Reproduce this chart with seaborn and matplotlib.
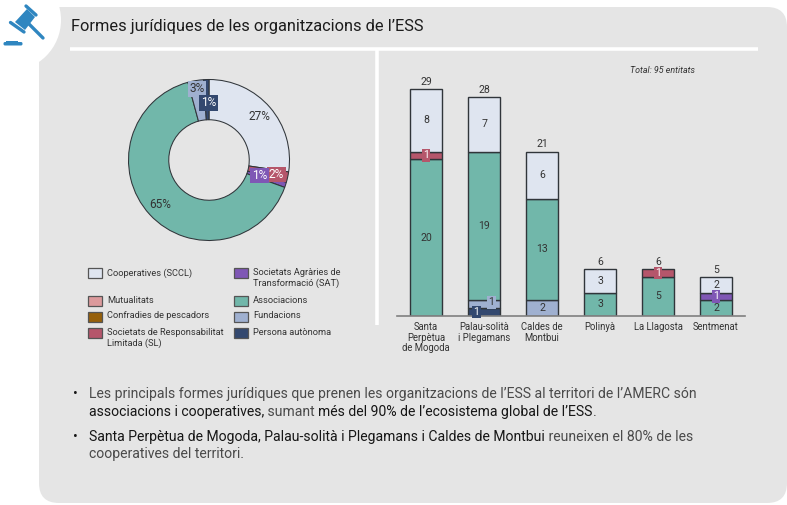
import numpy as np
import pandas as pd
import matplotlib
matplotlib.use('Agg')
import matplotlib.pyplot as plt
from matplotlib.patches import Circle, FancyBboxPatch, Polygon, Rectangle
import seaborn as sns

# -----------------------------
# Data
# -----------------------------
towns = ['Santa\nPerpètua\nde Mogoda', 'Palau-solità\ni Plegamans', 'Caldes de\nMontbui',
         'Polinyà', 'La Llagosta', 'Sentmenat']
persona = [0, 1, 0, 0, 0, 0]
fundacions = [0, 1, 2, 0, 0, 0]
associacions = [20, 19, 13, 3, 5, 2]
sat = [0, 0, 0, 0, 0, 1]
sl = [1, 0, 0, 0, 1, 0]
cooperatives = [8, 7, 6, 3, 0, 2]
totals = [29, 28, 21, 6, 6, 5]

donut_values = [26, 2, 1, 62, 3, 1]
donut_labels = ['27%', '2%', '1%', '65%', '3%', '1%']

COOP = '#dfe5f0'
ASSOC = '#71b7aa'
SL = '#b5566b'
SAT = '#7f57b5'
FUND = '#9fb0d0'
PERS = '#33486f'
MUT = '#dc9a9c'
CONF = '#96600b'
EDGE = '#30353a'
BG = '#e5e5e5'
TXT = '#333333'
BLUE = '#2f86c0'

legend_left = [('Cooperatives (SCCL)', COOP, 273), ('Mutualitats', MUT, 301),
               ('Confradies de pescadors', CONF, 316.5),
               ('Societats de Responsabilitat\nLimitada (SL)', SL, 333)]
legend_right = [('Societats Agràries de\nTransformació (SAT)', SAT, 273), ('Associacions', ASSOC, 301),
                ('Fundacions', FUND, 316.5), ('Persona autònoma', PERS, 333)]

sns.set_theme(style='white')
plt.rcParams['font.family'] = ['Roboto', 'DejaVu Sans']
W, H = 787, 505
fig = plt.figure(figsize=(W / 100, H / 100), dpi=100, facecolor='white')


def px_axes(x0, y0, x1, y1, **kw):
    # axes from pixel box, y counted from the top
    return fig.add_axes([x0 / W, 1 - y1 / H, (x1 - x0) / W, (y1 - y0) / H], **kw)


# -----------------------------
# Panel, header and icon
# -----------------------------
bg = px_axes(0, 0, W, H)
bg.set_xlim(0, W)
bg.set_ylim(H, 0)
bg.axis('off')
bg.add_patch(FancyBboxPatch((59, 27), 708, 456, boxstyle='round,pad=20,rounding_size=20',
                            fc=BG, ec='none'))
bg.add_patch(Circle((10, 20), 51, fc='white', ec='none'))
bg.plot([70, 758], [48.5, 48.5], color='white', lw=2.6, solid_capstyle='butt')
bg.plot([376.5, 376.5], [49, 325], color='white', lw=2.6, solid_capstyle='butt')
bg.text(71, 27, 'Formes jurídiques de les organitzacions de l’ESS', fontsize=11.75,
        color='#1c1c1c', va='center')

# gavel
bg.add_patch(Polygon([(27, 9), (35, 17), (25, 30), (15, 22)], fc=BLUE, ec='none'))
bg.plot([26, 36], [6, 15], color=BLUE, lw=2.4, solid_capstyle='round')
bg.plot([10.5, 24], [22.5, 32], color=BLUE, lw=2.4, solid_capstyle='round')
bg.plot([28, 43], [23, 38], color=BLUE, lw=2.4, solid_capstyle='round')
bg.add_patch(FancyBboxPatch((4, 42.5), 18, 2.5, boxstyle='round,pad=0.5,rounding_size=1.5', fc=BLUE, ec='none'))
bg.add_patch(Rectangle((6, 41), 12, 2, fc=BLUE, ec='none'))

# -----------------------------
# Donut
# -----------------------------
R = 80.5
cx, cy = 209, 160
ax_pie = px_axes(cx - 85, cy - 85, cx + 85, cy + 85)
ax_pie.patch.set_alpha(0)
ax_pie.pie(donut_values, colors=[COOP, SL, SAT, ASSOC, FUND, PERS], startangle=90, counterclock=False,
           radius=1, wedgeprops=dict(width=0.5, edgecolor=EDGE, linewidth=0.75))
ax_pie.set_xlim(-85 / R, 85 / R)
ax_pie.set_ylim(-85 / R, 85 / R)

pie_spots = [(259, 116, None, TXT), (276.5, 174.5, SL, 'white'), (259.5, 175.5, SAT, 'white'),
             (160, 204, None, TXT), (197, 89, FUND, TXT), (208.5, 103, PERS, 'white')]
for lab, (x, y, box, col) in zip(donut_labels, pie_spots):
    bbox = dict(fc=box, ec='none', pad=1.0) if box else None
    ax_pie.text((x - cx) / R, (cy - y) / R, lab, ha='center', va='center', fontsize=8.6,
                color=col, bbox=bbox)

# -----------------------------
# Legend
# -----------------------------
for items, x in ((legend_left, 88), (legend_right, 234)):
    for name, col, y in items:
        bg.add_patch(Rectangle((x, y - 5), 14, 10, fc=col, ec='#555555', lw=0.9))
        bg.text(x + 19, y - 5, name, fontsize=6.65, color=TXT, va='top', linespacing=1.25)

# -----------------------------
# Stacked bars
# -----------------------------
ax = px_axes(397, 70, 745, 316)
ax.patch.set_alpha(0)
series = [(persona, PERS), (fundacions, FUND), (associacions, ASSOC),
          (sat, SAT), (sl, SL), (cooperatives, COOP)]
pos = np.arange(len(towns))
bottom = np.zeros(len(towns))
for vals, col in series:
    vals = np.array(vals, dtype=float)
    keep = vals > 0
    df = pd.DataFrame({'town': np.array(towns)[keep], 'value': vals[keep]})
    sns.barplot(data=df, x='town', y='value', order=towns, color=col, saturation=1, width=0.55,
                bottom=bottom[keep], edgecolor=EDGE, linewidth=1.0, errorbar=None, ax=ax)
    for i in pos[keep]:
        y_mid = bottom[i] + vals[i] / 2
        x_txt = i
        if col == FUND and vals[i] == 1:
            x_txt = i + 0.13
        if col == PERS:
            x_txt = i - 0.13
        if col in (SL, SAT, PERS):
            ax.text(x_txt, y_mid, f'{int(vals[i])}', ha='center', va='center', fontsize=7.6, color='white',
                    bbox=dict(fc=col, ec='none', pad=1.0), zorder=5)
        elif col == FUND and vals[i] == 1:
            ax.text(x_txt, y_mid + 0.25, f'{int(vals[i])}', ha='center', va='center', fontsize=7.6, color=TXT,
                    bbox=dict(fc=col, ec='none', pad=1.0), zorder=5)
        else:
            ax.text(x_txt, y_mid, f'{int(vals[i])}', ha='center', va='center', fontsize=7.6, color=TXT, zorder=5)
    bottom = bottom + vals

for i, t in enumerate(totals):
    ax.annotate(str(t), (i, t), xytext=(0, 1.5), textcoords='offset points', ha='center', va='bottom',
                fontsize=7.6, color=TXT)

ax.set_xlim(-0.5, 5.5)
ax.set_ylim(0, 246 / 7.83)
ax.set_xlabel('')
ax.set_ylabel('')
ax.set_yticks([])
ax.tick_params(axis='x', length=0, pad=4.5, labelsize=6.85, labelcolor=TXT)
for lab in ax.get_xticklabels():
    lab.set_linespacing(1.05)
sns.despine(ax=ax, left=True)
ax.spines['bottom'].set_color('#808080')
ax.spines['bottom'].set_linewidth(1.2)
bg.text(630, 70.5, 'Total: 95 entitats', fontsize=6.4, style='italic', color=TXT, va='center')

# -----------------------------
# Bullets
# -----------------------------
renderer = fig.canvas.get_renderer()
GREY = '#4a4a4a'
DARK = '#161616'
BULLET_SIZE = 10.05


def run_width(s):
    t = bg.text(0, 0, s + '.', fontsize=BULLET_SIZE)
    w1 = t.get_window_extent(renderer).width
    t.set_text('.')
    w2 = t.get_window_extent(renderer).width
    t.remove()
    return w1 - w2


def text_line(x, y, runs):
    prefix = ''
    for s, col in runs:
        bg.text(x + run_width(prefix), y, s, fontsize=BULLET_SIZE, color=col, va='center')
        prefix += s


bg.text(75, 394, '•', fontsize=10, color=DARK, va='center', ha='center')
bg.text(75, 437, '•', fontsize=10, color=DARK, va='center', ha='center')
text_line(89, 394, [('Les principals formes jurídiques que prenen les organitzacions de l’ESS al territori de l’AMERC són', GREY)])
text_line(89, 412, [('associacions i cooperatives,', DARK), (' sumant ', GREY),
                    ('més del 90% de l’ecosistema global de l’ESS', DARK), ('.', GREY)])
text_line(89, 437, [('Santa Perpètua de Mogoda, Palau-solità i Plegamans i Caldes de Montbui', DARK),
                    (' reuneixen el 80% de les', GREY)])
text_line(89, 454, [('cooperatives del territori.', GREY)])

fig.savefig('out.png', dpi=100)
